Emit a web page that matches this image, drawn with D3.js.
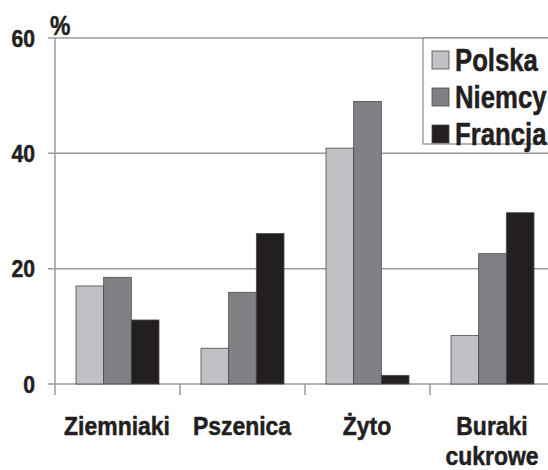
<!DOCTYPE html>
<html>
<head>
<meta charset="utf-8">
<script src="https://cdn.jsdelivr.net/npm/d3@7"></script>
<style>
  body { margin: 0; background: #fff; }
  text { font-family: "Liberation Sans", Arial, sans-serif; font-weight: 700; fill: #231f20; stroke: #231f20; stroke-width: 0.5; }
</style>
</head>
<body>
<script>
const categories = ["Ziemniaki", "Pszenica", "Żyto", "Buraki cukrowe"];
const series = ["Polska", "Niemcy", "Francja"];
const polska = [17.0, 6.2, 40.9, 8.4];
const niemcy = [18.5, 15.9, 49.0, 22.6];
const francja = [11.1, 26.1, 1.5, 29.7];
const yTicks = [0, 20, 40, 60];
const colors = ["#c0c1c5", "#808185", "#231f20"];

const values = [polska, niemcy, francja];
const data = categories.map((c, i) => ({
  cat: c,
  vals: series.map((s, j) => ({ key: s, value: values[j][i] }))
}));

const width = 548, height = 470;
const svg = d3.select("body").append("svg")
  .attr("width", width).attr("height", height);

const x0 = d3.scaleBand().domain(categories).range([55, 555]);
const x1 = d3.scaleBand().domain(series).range([21, 104]);
const y = d3.scaleLinear().domain([0, 60]).range([384, 38]);
const color = d3.scaleOrdinal().domain(series).range(colors);

// narrow-looking text: squeeze horizontally
const narrow = (x, y, sx) => `translate(${x},${y}) scale(${sx},1)`;

// gridlines
svg.append("g")
  .selectAll("line")
  .data(yTicks)
  .enter()
  .append("line")
  .attr("x1", 48)
  .attr("x2", width)
  .attr("y1", (d) => y(d))
  .attr("y2", (d) => y(d))
  .attr("stroke", "#9a9a9a")
  .attr("stroke-width", 1.5);

// y axis line
svg.append("line")
  .attr("x1", 55).attr("x2", 55)
  .attr("y1", y(60)).attr("y2", y(0) + 11)
  .attr("stroke", "#9a9a9a").attr("stroke-width", 1.5);

// x ticks
svg.append("g")
  .selectAll("line")
  .data(categories.slice(1))
  .enter()
  .append("line")
  .attr("x1", (d) => x0(d))
  .attr("x2", (d) => x0(d))
  .attr("y1", y(0))
  .attr("y2", y(0) + 11)
  .attr("stroke", "#9a9a9a")
  .attr("stroke-width", 1.5);

// y tick labels
svg.append("g")
  .selectAll("text")
  .data(yTicks)
  .enter()
  .append("text")
  .attr("transform", (d) => narrow(35, y(d) + 8.5, 0.9))
  .attr("text-anchor", "end")
  .attr("font-size", 23.5)
  .text((d) => d);

svg.append("text")
  .attr("transform", narrow(50, 35, 0.85))
  .attr("font-size", 27)
  .text("%");

// bars
const groups = svg.selectAll(".grp")
  .data(data)
  .enter()
  .append("g")
  .attr("class", "grp")
  .attr("transform", (d) => `translate(${x0(d.cat)},0)`);

groups.selectAll("rect")
  .data((d) => d.vals)
  .enter()
  .append("rect")
  .attr("x", (d) => x1(d.key))
  .attr("width", x1.bandwidth())
  .attr("y", (d) => y(d.value))
  .attr("height", (d) => y(0) - y(d.value))
  .attr("fill", (d) => color(d.key))
  .attr("stroke", "#4a4a4a")
  .attr("stroke-width", 0.8);

// category labels
svg.append("g")
  .selectAll("text")
  .data(categories)
  .enter()
  .append("text")
  .attr("transform", (d) => narrow(x0(d) + x0.bandwidth() / 2 - 0.5, 435, 0.9))
  .attr("text-anchor", "middle")
  .attr("font-size", 25.5)
  .each(function (d) {
    const parts = d === "Buraki cukrowe" ? ["Buraki", "cukrowe"] : [d];
    d3.select(this)
      .selectAll("tspan")
      .data(parts)
      .enter()
      .append("tspan")
      .attr("x", 0)
      .attr("dy", (p, i) => (i === 0 ? 0 : 30))
      .text((p) => p);
  });

// legend
const legend = svg.append("g");
legend.append("rect")
  .attr("x", 423)
  .attr("y", y(60))
  .attr("width", 140)
  .attr("height", 144 - y(60))
  .attr("fill", "#fff")
  .attr("stroke", "#8a8a8a")
  .attr("stroke-width", 1.2);

const items = legend.selectAll(".item")
  .data(series)
  .enter()
  .append("g")
  .attr("class", "item")
  .attr("transform", (d, i) => `translate(432,${60 + i * 37})`);

items.append("rect")
  .attr("x", 0)
  .attr("y", -9)
  .attr("width", 17)
  .attr("height", 18)
  .attr("fill", (d) => color(d))
  .attr("stroke", "#4a4a4a")
  .attr("stroke-width", 0.8);

items.append("text")
  .attr("transform", narrow(23, 11, 0.83))
  .attr("font-size", 31)
  .text((d) => d);
</script>
</body>
</html>
